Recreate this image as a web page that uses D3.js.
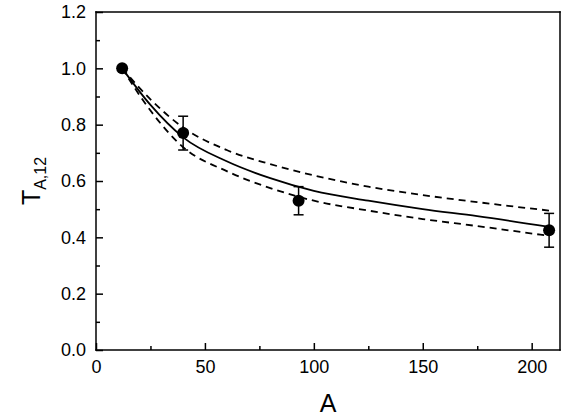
<!DOCTYPE html>
<html><head><meta charset="utf-8">
<script src="https://cdn.jsdelivr.net/npm/d3@7"></script>
<style>body{margin:0;background:#fff}text{font-family:"Liberation Sans",Arial,sans-serif}</style>
</head><body><svg id="c" width="565" height="419"></svg>
<script>
// data
var pointA = [12, 40, 93, 208];
var pointT = [1.0, 0.77, 0.53, 0.425];
var pointErr = [0, 0.06, 0.05, 0.06];
var curveA = [12, 25, 40, 60, 80, 100, 125, 150, 175, 208];
var fitMid = [1.0, 0.87, 0.755, 0.67, 0.61, 0.565, 0.53, 0.50, 0.475, 0.437];
var fitHigh = [1.0, 0.89, 0.79, 0.71, 0.66, 0.62, 0.58, 0.55, 0.525, 0.495];
var fitLow = [1.0, 0.85, 0.72, 0.635, 0.575, 0.53, 0.495, 0.465, 0.44, 0.405];

var svg = d3.select("#c");
var L = 96, R = 560, T = 12, B = 350;
var x = d3.scaleLinear().domain([0, 213]).range([L, R]);
var y = d3.scaleLinear().domain([0, 1.2]).range([B, T]);

svg.append("g").attr("transform", "translate(0," + B + ")")
  .call(d3.axisBottom(x).tickValues([0, 50, 100, 150, 200]).tickSizeInner(-7).tickSizeOuter(0).tickPadding(10));
svg.append("g").attr("transform", "translate(0," + B + ")")
  .call(d3.axisBottom(x).tickValues([25, 75, 125, 175]).tickSizeInner(-4).tickSizeOuter(0).tickFormat(""));
svg.append("g").attr("transform", "translate(" + L + ",0)")
  .call(d3.axisLeft(y).tickValues(d3.range(0, 1.21, 0.2)).tickFormat(d3.format(".1f")).tickSizeInner(-7).tickSizeOuter(0).tickPadding(10));
svg.append("g").attr("transform", "translate(" + L + ",0)")
  .call(d3.axisLeft(y).tickValues(d3.range(0.1, 1.2, 0.2)).tickSizeInner(-4).tickSizeOuter(0).tickFormat(""));
svg.selectAll(".domain").remove();
svg.selectAll(".tick line").attr("stroke-width", 1.5);
svg.selectAll(".tick text").style("font-size", "18px").attr("fill", "#000");

var line = d3.line().x(function(d){return x(d[0]);}).y(function(d){return y(d[1]);}).curve(d3.curveMonotoneX);
[[fitMid, null], [fitHigh, "7,5"], [fitLow, "7,5"]].forEach(function(s){
  svg.append("path").datum(curveA.map(function(a, i){return [a, s[0][i]];}))
    .attr("d", line).attr("fill", "none").attr("stroke", "#000").attr("stroke-width", 1.8)
    .attr("stroke-dasharray", s[1]);
});

pointA.forEach(function(a, i){
  if (pointErr[i] > 0) {
    var y1 = y(pointT[i] + pointErr[i]), y2 = y(pointT[i] - pointErr[i]), cx = x(a);
    svg.append("line").attr("x1", cx).attr("x2", cx).attr("y1", y1).attr("y2", y2).attr("stroke", "#000").attr("stroke-width", 1.5);
    [y1, y2].forEach(function(yy){
      svg.append("line").attr("x1", cx - 5).attr("x2", cx + 5).attr("y1", yy).attr("y2", yy).attr("stroke", "#000").attr("stroke-width", 1.5);
    });
  }
  svg.append("circle").attr("cx", x(a)).attr("cy", y(pointT[i])).attr("r", 6).attr("fill", "#000");
});

// frame
[[L, T, R, T], [R, T, R, B], [L, B, R, B], [L, T, L, B]].forEach(function(s){
  svg.append("line").attr("x1", s[0]).attr("y1", s[1]).attr("x2", s[2]).attr("y2", s[3])
    .attr("stroke", "#000").attr("stroke-width", 1.5).attr("stroke-linecap", "square");
});

svg.append("text").attr("x", (L + R) / 2).attr("y", 412).attr("text-anchor", "middle")
  .style("font-size", "25px").text("A");
var yt = svg.append("text").attr("transform", "translate(40," + ((T + B) / 2) + ") rotate(-90)")
  .attr("text-anchor", "middle").style("font-size", "25px");
yt.append("tspan").text("T");
yt.append("tspan").attr("dy", 6).style("font-size", "16px").text("A,12");
</script></body></html>
